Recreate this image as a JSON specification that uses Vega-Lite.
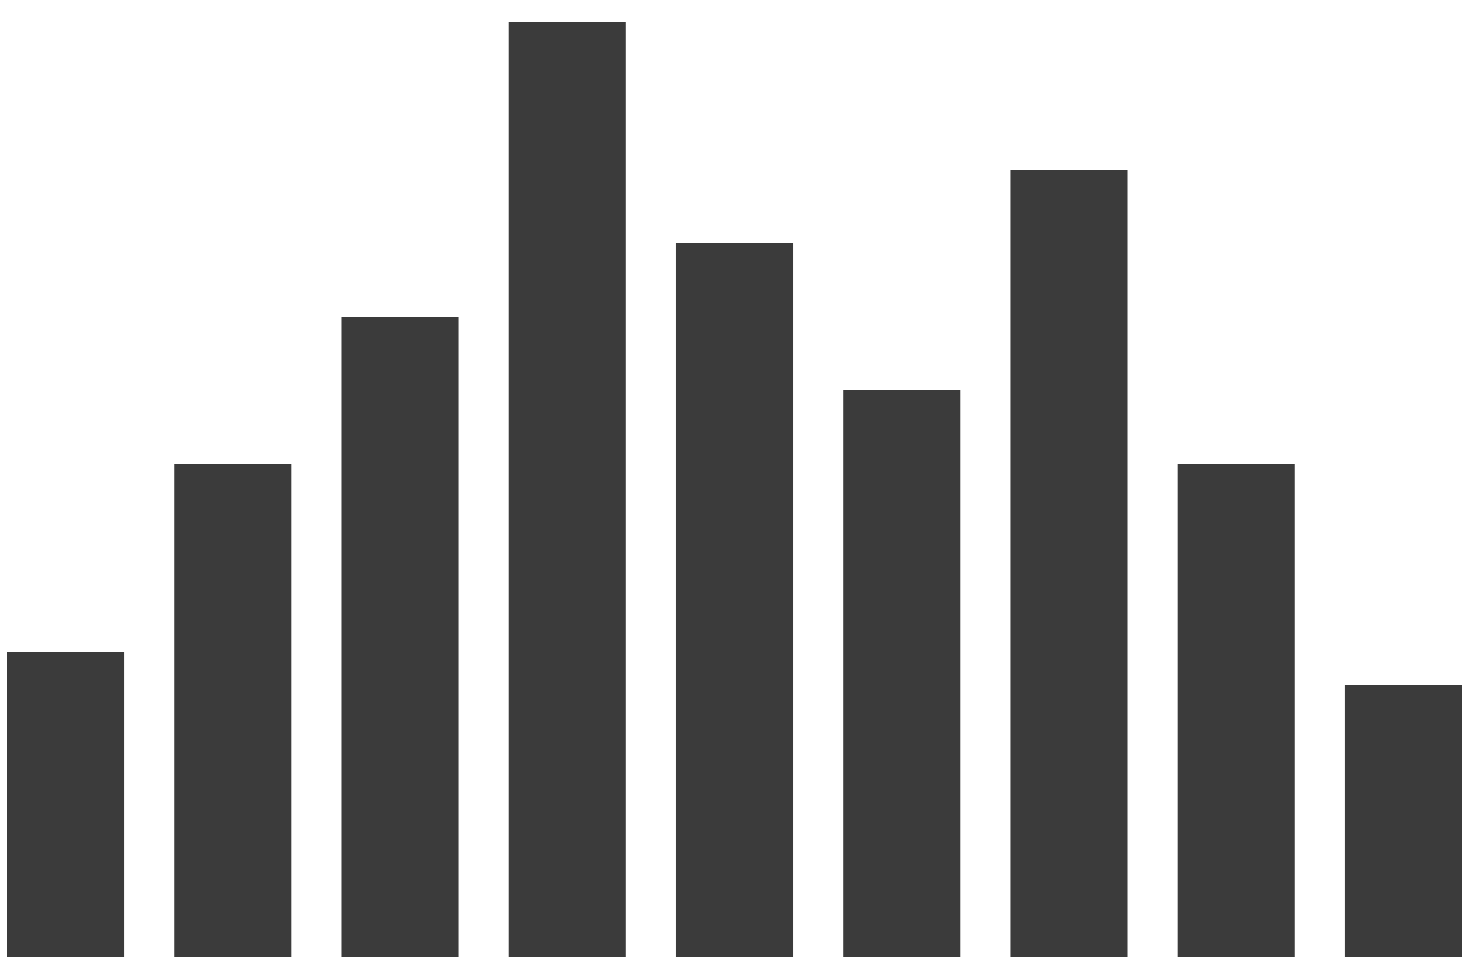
{
  "$schema": "https://vega.github.io/schema/vega-lite/v6.json",
  "autosize": {"type": "fit", "contains": "padding"},
  "width": 1470,
  "height": 980,
  "padding": {"left": 7, "right": 7, "top": 22, "bottom": 23},
  "background": "white",
  "config": {"view": {"stroke": null}},
  "data": {"values": [
    {"k": "1", "v": 305},
    {"k": "2", "v": 493},
    {"k": "3", "v": 640},
    {"k": "4", "v": 935},
    {"k": "5", "v": 714},
    {"k": "6", "v": 567},
    {"k": "7", "v": 787},
    {"k": "8", "v": 493},
    {"k": "9", "v": 272}
  ]},
  "mark": {"type": "bar", "color": "#3b3b3b"},
  "encoding": {
    "x": {"field": "k", "type": "nominal", "sort": null, "axis": null,
          "scale": {"paddingInner": 0.3, "paddingOuter": 0}},
    "y": {"field": "v", "type": "quantitative", "axis": null,
          "scale": {"domain": [0, 935], "nice": false, "zero": true}}
  }
}
